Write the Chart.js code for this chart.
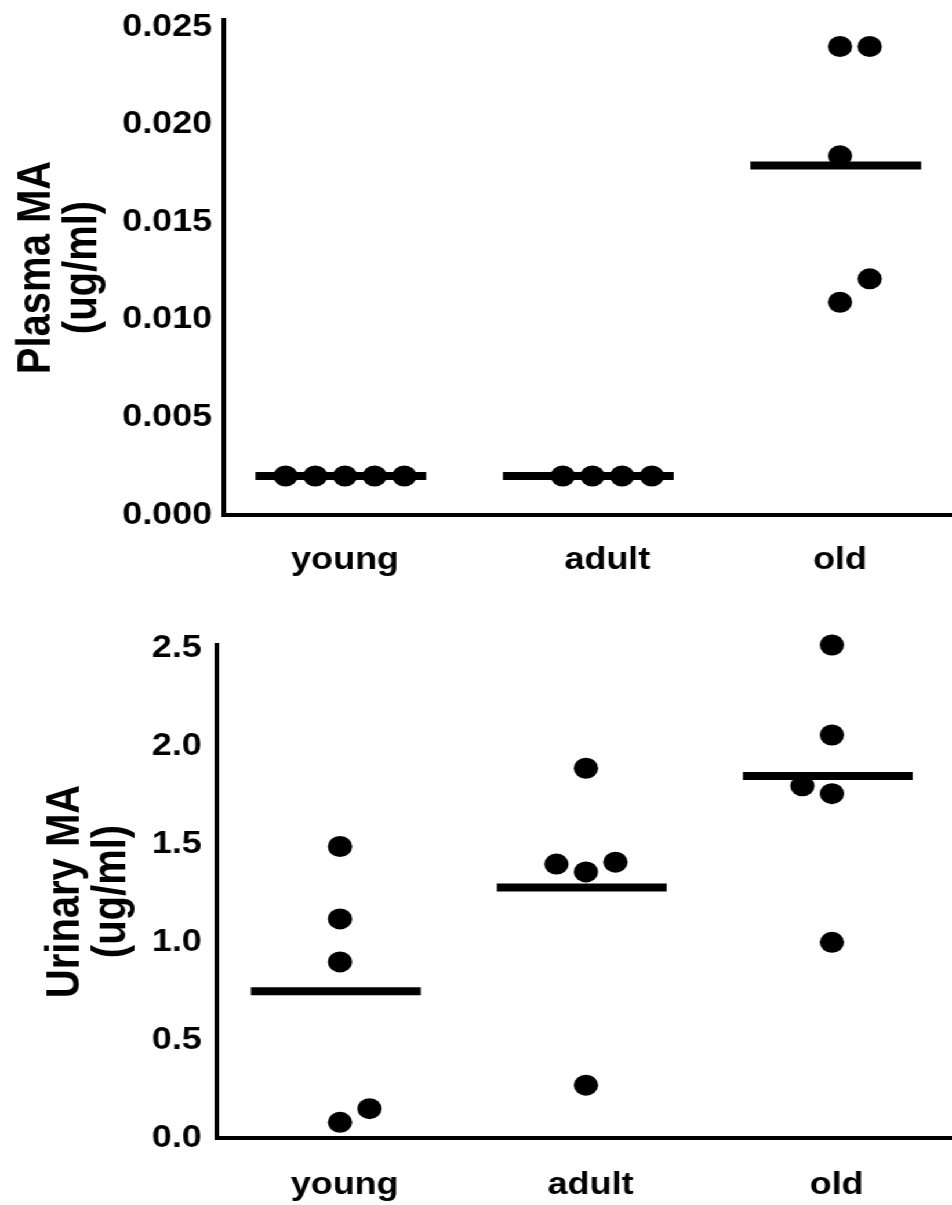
<!DOCTYPE html>
<html>
<head>
<meta charset="utf-8">
<script src="https://cdn.jsdelivr.net/npm/chart.js@4.4.1/dist/chart.umd.min.js"></script>
<style>
html,body{margin:0;padding:0;background:#fff;overflow:hidden;width:952px;height:1205px;}
#stage{position:absolute;left:0;top:0;width:821px;height:1205px;transform:scaleX(1.15956);transform-origin:0 0;}
.panel{position:absolute;left:0;width:821px;}
</style>
</head>
<body>
<div id="stage">
  <div class="panel" style="top:0;height:600px"><canvas id="plasma" width="821" height="600"></canvas></div>
  <div class="panel" style="top:600px;height:605px"><canvas id="urinary" width="821" height="605"></canvas></div>
</div>
<script>
// ---------- data ----------
const categories = ['young', 'adult', 'old'];

// Plasma MA (ug/ml)
const plasmaYoung = [0.002, 0.002, 0.002, 0.002, 0.002];
const plasmaAdult = [0.002, 0.002, 0.002, 0.002];
const plasmaOld   = [0.0240, 0.0240, 0.0184, 0.0121, 0.0109];
const plasmaMeans = [0.002, 0.002, 0.0179];
// column slot of each dot inside its group (dot-plot spreading)
const plasmaYoungSlot = [-2, -1, 0, 1, 2];
const plasmaAdultSlot = [-1, 0, 1, 2];
const plasmaOldSlot   = [0, 1, 0, 1, 0];
const plasmaTicks = [0, 0.005, 0.010, 0.015, 0.020, 0.025];
const plasmaTickLabels = ['0.000', '0.005', '0.010', '0.015', '0.020', '0.025'];

// Urinary MA (ug/ml)
const urinaryYoung = [1.49, 1.12, 0.90, 0.15, 0.08];
const urinaryAdult = [1.89, 1.40, 1.36, 1.41, 0.27];
const urinaryOld   = [2.52, 2.06, 1.80, 1.76, 1.00];
const urinaryMeans = [0.75, 1.28, 1.85];
const urinaryYoungSlot = [0, 0, 0, 1, 0];
const urinaryAdultSlot = [0, -1, 0, 1, 0];
const urinaryOldSlot   = [0, 0, -1, 0, 0];
const urinaryTicks = [0, 0.5, 1.0, 1.5, 2.0, 2.5];
const urinaryTickLabels = ['0.0', '0.5', '1.0', '1.5', '2.0', '2.5'];

// ---------- drawing ----------
const FONT = "'Liberation Sans', Arial, Helvetica, sans-serif";
Chart.defaults.font.family = FONT;
Chart.defaults.color = '#000';

const JITTER = 0.12;      // x distance between neighbouring dots (category units)
const HALF = 0.345;       // half length of the mean bar (category units)
const BAR_SHIFT = -0.017; // small left shift of the mean bars

function noPad(s) {
  s.paddingLeft = 0; s.paddingRight = 0; s.paddingTop = 0; s.paddingBottom = 0;
}

function buildChart(canvasId, groups, slots, means, ticks, tickLabels, title, L) {
  const pts = [];
  groups.forEach((vals, i) => {
    vals.forEach((v, j) => pts.push({ x: i + slots[i][j] * JITTER, y: v }));
  });
  const datasets = [{
    data: pts,
    backgroundColor: '#000',
    borderWidth: 0,
    pointRadius: 10.5,
    pointHoverRadius: 10.5,
    showLine: false,
    clip: false,
    order: 1
  }];
  means.forEach((m, i) => {
    datasets.push({
      data: [{ x: i + BAR_SHIFT - HALF, y: m }, { x: i + BAR_SHIFT + HALF, y: m }],
      showLine: true,
      borderColor: '#000',
      borderWidth: 8,
      borderCapStyle: 'butt',
      pointRadius: 0,
      pointHoverRadius: 0,
      clip: false,
      order: 2
    });
  });

  return new Chart(document.getElementById(canvasId), {
    type: 'scatter',
    data: { datasets },
    options: {
      responsive: false,
      animation: false,
      devicePixelRatio: 1,
      layout: { autoPadding: false, padding: { top: L.padTop, left: 0, right: 0, bottom: 0 } },
      plugins: { legend: { display: false }, tooltip: { enabled: false } },
      events: [],
      scales: {
        x: {
          type: 'linear',
          min: L.xMin,
          max: L.xMax,
          grid: { display: false, drawTicks: false },
          border: { display: true, color: '#000', width: 4 },
          afterBuildTicks: s => { s.ticks = L.labelAt.map(v => ({ value: v })); },
          ticks: {
            autoSkip: false,
            maxRotation: 0,
            padding: L.xPad,
            labelOffset: L.labelShift,
            color: '#000',
            font: { size: 31, weight: 'bold' },
            callback: (v, i) => categories[i]
          },
          afterFit: s => { s.height = L.xHeight; noPad(s); }
        },
        y: {
          type: 'linear',
          min: 0,
          max: L.yMax,
          grid: { display: false, drawTicks: false },
          border: { display: true, color: '#000', width: 4 },
          afterBuildTicks: s => { s.ticks = ticks.map(v => ({ value: v })); },
          ticks: {
            autoSkip: false,
            padding: L.yPad,
            color: '#000',
            font: { size: 31, weight: 'bold' },
            callback: (v, i) => tickLabels[i]
          },
          title: {
            display: true,
            text: title,
            color: '#000',
            font: { size: 40, weight: 'bold', lineHeight: 1.0 },
            padding: { top: L.titlePad, bottom: 0 }
          },
          afterFit: s => { s.width = L.yWidth; noPad(s); }
        }
      }
    }
  });
}

buildChart('plasma',
  [plasmaYoung, plasmaAdult, plasmaOld],
  [plasmaYoungSlot, plasmaAdultSlot, plasmaOldSlot],
  plasmaMeans, plasmaTicks, plasmaTickLabels,
  ['Plasma MA', '(ug/ml)'],
  { padTop: 20, xHeight: 85, yWidth: 193, xMin: -0.4896, xMax: 2.4525, yMax: 0.02536,
    yPad: 10, xPad: 27, titlePad: 11.5, labelAt: [0, 1.06, 2], labelShift: 0 });

buildChart('urinary',
  [urinaryYoung, urinaryAdult, urinaryOld],
  [urinaryYoungSlot, urinaryAdultSlot, urinaryOldSlot],
  urinaryMeans, urinaryTicks, urinaryTickLabels,
  ['Urinary MA', '(ug/ml)'],
  { padTop: 45, xHeight: 67, yWidth: 187, xMin: -0.5006, xMax: 2.488, yMax: 2.52,
    yPad: 13, xPad: 29, titlePad: 36.5, labelAt: [0, 1, 2], labelShift: 4 });
</script>
</body>
</html>
